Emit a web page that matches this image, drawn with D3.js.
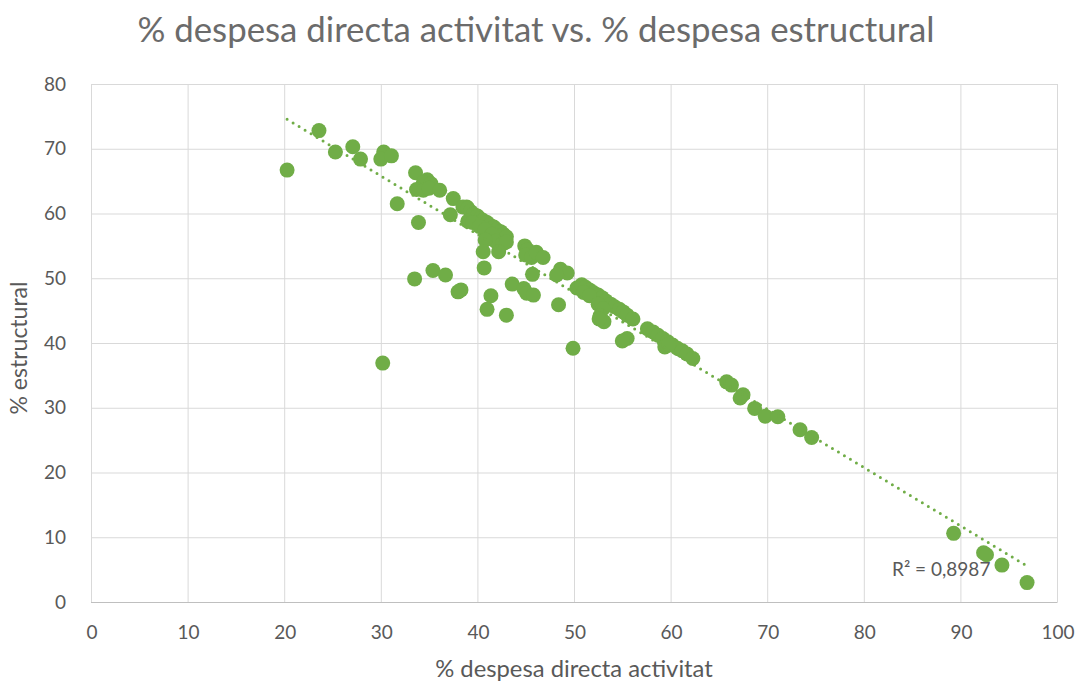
<!DOCTYPE html>
<html>
<head>
<meta charset="utf-8">
<script src="https://cdn.jsdelivr.net/npm/d3@7"></script>
<style>
  html, body { margin: 0; padding: 0; background: #ffffff; }
  svg { display: block; }
</style>
</head>
<body>
<svg id="chart" width="1078" height="684"></svg>
<script>
// % direct activity spending (x) and % structural spending (y) per entity
const directaValues = [
  20.3, 23.6, 25.3, 27.1, 27.9, 30.3, 30.0, 31.1, 31.7, 30.2,
  33.6, 34.8, 34.4, 35.2, 33.7, 34.4, 35.0, 36.1, 37.5, 37.2,
  38.9, 33.9, 33.5, 35.4, 36.7, 38.0, 38.3,
  38.5, 39.0, 39.3, 39.6, 40.0, 40.3, 40.6, 41.0, 41.3, 41.7,
  42.0, 42.4, 42.7, 43.0, 39.0, 39.5, 40.2, 40.8, 41.5, 41.9,
  42.6, 43.0, 40.8, 40.6, 42.2, 40.7, 41.4, 41.0, 43.0, 43.6,
  44.8, 45.1, 45.8, 48.4, 49.9,
  44.9, 45.2, 45.0, 45.6, 46.1, 46.8, 45.7, 48.6, 49.3, 48.2,
  50.3, 50.8, 51.2, 51.6, 52.0, 52.5, 52.9, 53.3, 53.8, 54.2,
  54.7, 55.1, 55.5, 51.0, 51.6, 52.5, 53.0, 52.7, 53.1, 52.6,
  55.5, 55.0, 56.1, 57.6, 58.2, 58.7, 59.2, 59.7, 60.2, 60.7,
  61.2, 61.7, 62.3, 59.4, 59.8,
  65.8, 66.3, 67.5, 67.2, 68.7, 69.8, 71.1, 73.4, 74.6,
  89.3, 92.4, 92.7, 94.3, 96.9
];
const estructuralValues = [
  66.7, 72.8, 69.5, 70.3, 68.4, 69.5, 68.4, 68.9, 61.5, 36.9,
  66.3, 65.2, 64.8, 64.6, 63.7, 63.6, 63.9, 63.6, 62.3, 59.8,
  61.0, 58.6, 49.9, 51.2, 50.5, 47.9, 48.2,
  61.0, 60.8, 60.3, 59.9, 59.6, 59.2, 58.9, 58.6, 58.2, 57.9,
  57.5, 57.2, 56.8, 56.4, 58.8, 58.6, 58.0, 57.5, 56.8, 55.7,
  55.3, 55.6, 55.9, 54.1, 54.1, 51.6, 47.3, 45.2, 44.3, 49.1,
  48.4, 47.7, 47.4, 45.9, 39.2,
  55.0, 54.4, 53.6, 53.2, 54.0, 53.2, 50.6, 51.4, 50.8, 50.5,
  48.5, 49.0, 48.6, 48.2, 47.8, 47.4, 47.0, 46.5, 46.0, 45.6,
  45.2, 44.8, 44.3, 47.8, 47.3, 46.0, 45.3, 44.2, 43.3, 43.7,
  40.7, 40.3, 43.7, 42.2, 41.7, 41.2, 40.7, 40.2, 39.7, 39.2,
  38.8, 38.3, 37.6, 39.4, 39.8,
  34.0, 33.5, 32.0, 31.5, 29.9, 28.7, 28.6, 26.6, 25.4,
  10.6, 7.6, 7.3, 5.7, 3.0
];
const xTicks = [0, 10, 20, 30, 40, 50, 60, 70, 80, 90, 100];
const yTicks = [0, 10, 20, 30, 40, 50, 60, 70, 80];
// Linear trendline fitted on the full dataset: y = slope * x + intercept
const trendSlope = -0.9006;
const trendIntercept = 92.83;
const rSquaredLabel = "R² = 0,8987";

const points = directaValues.map((d, i) => ({ x: d, y: estructuralValues[i] }));

const svg = d3.select("#chart");
const fontFamily = "Lato, 'Open Sans', sans-serif";
const textColor = "#595959";
const titleColor = "#6b6b6b";
const pointColor = "#70ad47";

const plot = { left: 91, right: 1057, top: 84, bottom: 602 };

const x = d3.scaleLinear().domain([0, 100]).range([plot.left, plot.right]);
const y = d3.scaleLinear().domain([0, 80]).range([plot.bottom, plot.top]);

// Gridlines
svg.append("g")
  .selectAll("line")
  .data(xTicks)
  .join("line")
  .attr("x1", d => x(d) + 0.5).attr("x2", d => x(d) + 0.5)
  .attr("y1", plot.top).attr("y2", plot.bottom)
  .attr("stroke", "#d9d9d9").attr("stroke-width", 1);

svg.append("g")
  .selectAll("line")
  .data(yTicks.filter(d => d > 0))
  .join("line")
  .attr("x1", plot.left).attr("x2", plot.right)
  .attr("y1", d => y(d) + 0.5).attr("y2", d => y(d) + 0.5)
  .attr("stroke", "#d9d9d9").attr("stroke-width", 1);

// X axis line and labels
const xAxis = d3.axisBottom(x).tickValues(xTicks).tickSize(0).tickPadding(23);
const gx = svg.append("g")
  .attr("transform", `translate(0.5,${plot.bottom + 0.5})`)
  .call(xAxis);
gx.select(".domain").attr("stroke", "#bfbfbf").attr("stroke-width", 1)
  .attr("d", `M${plot.left - 0.5},0H${plot.right}`);
gx.selectAll("text")
  .attr("fill", textColor)
  .style("font-family", fontFamily)
  .style("font-size", "19px");

// Y axis labels
const yAxis = d3.axisLeft(y).tickValues(yTicks).tickSize(0).tickPadding(25);
const gy = svg.append("g")
  .attr("transform", `translate(${plot.left},0)`)
  .call(yAxis);
gy.select(".domain").remove();
gy.selectAll("text")
  .attr("fill", textColor)
  .style("font-family", fontFamily)
  .style("font-size", "19px");

// Scatter points
svg.append("g")
  .selectAll("circle")
  .data(points)
  .join("circle")
  .attr("cx", d => x(d.x))
  .attr("cy", d => y(d.y))
  .attr("r", 7.5)
  .attr("fill", pointColor);

// Dotted trendline across the x range of the data
const [xMin, xMax] = d3.extent(points, d => d.x);
svg.append("line")
  .attr("x1", x(xMin)).attr("y1", y(trendIntercept + trendSlope * xMin))
  .attr("x2", x(xMax)).attr("y2", y(trendIntercept + trendSlope * xMax))
  .attr("stroke", pointColor)
  .attr("stroke-width", 3)
  .attr("stroke-linecap", "round")
  .attr("stroke-dasharray", "0,7");

// R² label
svg.append("text")
  .attr("x", 892).attr("y", 576)
  .attr("fill", textColor)
  .style("font-family", fontFamily)
  .style("font-size", "19px")
  .text(rSquaredLabel);

// Title
svg.append("text")
  .attr("x", 536).attr("y", 42)
  .attr("text-anchor", "middle")
  .attr("fill", titleColor)
  .style("font-family", fontFamily)
  .style("font-size", "34.8px")
  .text("% despesa directa activitat vs. % despesa estructural");

// Axis titles
svg.append("text")
  .attr("x", 574).attr("y", 677)
  .attr("text-anchor", "middle")
  .attr("fill", textColor)
  .style("font-family", fontFamily)
  .style("font-size", "23.8px")
  .text("% despesa directa activitat");

svg.append("text")
  .attr("transform", "translate(27,348) rotate(-90)")
  .attr("text-anchor", "middle")
  .attr("fill", textColor)
  .style("font-family", fontFamily)
  .style("font-size", "23px")
  .text("% estructural");
</script>
</body>
</html>
